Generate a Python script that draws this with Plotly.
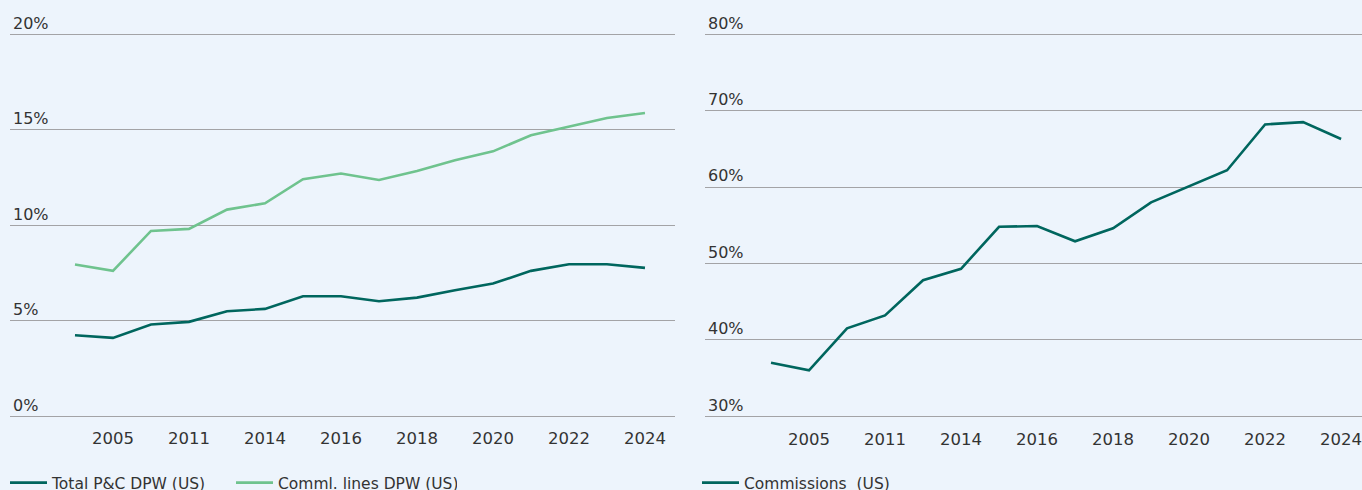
import plotly.graph_objects as go

years = ["2000", "2005", "2010", "2011", "2013", "2014", "2015", "2016",
         "2017", "2018", "2019", "2020", "2021", "2022", "2023", "2024"]
tick_labels = ["2005", "2011", "2014", "2016", "2018", "2020", "2022", "2024"]

total_pc = [4.24, 4.10, 4.80, 4.94, 5.50, 5.62, 6.28, 6.28,
            6.02, 6.21, 6.60, 6.95, 7.61, 7.96, 7.96, 7.77]
comml_lines = [7.94, 7.61, 9.70, 9.81, 10.82, 11.15, 12.41, 12.71,
               12.37, 12.84, 13.40, 13.87, 14.71, 15.15, 15.62, 15.88]
commissions = [37.0, 36.0, 41.5, 43.2, 47.8, 49.3, 54.8, 54.9,
               52.9, 54.6, 58.0, 60.1, 62.2, 68.2, 68.5, 66.3]

left_ticks = [0, 5, 10, 15, 20]
right_ticks = [30, 40, 50, 60, 70, 80]

DARK = "#00665E"
GREEN = "#6FC38E"
BG = "#EDF4FC"
GRID = "#A3A3A6"
TXT = "#333333"
FONT = "DejaVu Sans"

W, H = 1362, 490
BASE = 416.2  # pixel row of bottom gridline
TOP = 34.3    # pixel row of top gridline


def domain_for(lo_tick, hi_tick, r0, r1):
    ppu = (BASE - TOP) / (hi_tick - lo_tick)
    bottom = BASE + (lo_tick - r0) * ppu
    top = BASE - (r1 - lo_tick) * ppu
    return [1 - bottom / H, 1 - top / H]


lrange = [-0.3, 21.3]
rrange = [29.2, 83.2]

fig = go.Figure()
fig.add_trace(go.Scatter(x=years, y=total_pc, mode="lines", name="Total P&C DPW (US)",
                         line=dict(color=DARK, width=2.6), xaxis="x", yaxis="y", legend="legend"))
fig.add_trace(go.Scatter(x=years, y=comml_lines, mode="lines", name="Comml. lines DPW (US)",
                         line=dict(color=GREEN, width=2.6), xaxis="x", yaxis="y", legend="legend"))
fig.add_trace(go.Scatter(x=years, y=commissions, mode="lines", name="Commissions  (US)",
                         line=dict(color=DARK, width=2.6), xaxis="x2", yaxis="y2", legend="legend2"))

xcommon = dict(type="category", categoryorder="array", categoryarray=years,
               tickmode="array", tickvals=tick_labels, ticktext=tick_labels,
               showgrid=False, zeroline=False, showline=False, ticks="",
               ticklabelstandoff=5,
               tickfont=dict(family=FONT, size=16.5, color=TXT), fixedrange=True)
ycommon = dict(showgrid=True, gridcolor=GRID, gridwidth=1.2, zeroline=False, showline=False,
               ticks="", ticklabelposition="inside top",
               tickfont=dict(family=FONT, size=16, color=TXT), fixedrange=True)

legend_common = dict(orientation="h", xanchor="left", y=1 - 466 / H, yanchor="top",
                     bgcolor="rgba(0,0,0,0)", itemwidth=37, entrywidth=174,
                     font=dict(family=FONT, size=15.5, color=TXT))

fig.update_layout(
    width=W, height=H,
    margin=dict(l=0, r=0, t=0, b=0, autoexpand=False),
    paper_bgcolor=BG, plot_bgcolor=BG,
    xaxis=dict(xcommon, domain=[10 / W, 675 / W], range=[-1.71, 15.79], anchor="y"),
    yaxis=dict(ycommon, domain=domain_for(0, 20, *lrange), range=lrange, tickvals=left_ticks,
               ticktext=[f"{v}%" for v in left_ticks], anchor="x"),
    xaxis2=dict(xcommon, domain=[705 / W, 1.0], range=[-1.737, 15.55], anchor="y2"),
    yaxis2=dict(ycommon, domain=domain_for(30, 80, *rrange), range=rrange, tickvals=right_ticks,
                ticktext=[f"{v}%" for v in right_ticks], anchor="x2"),
    legend=dict(legend_common, x=5 / W),
    legend2=dict(legend_common, x=697 / W),
    showlegend=True,
)

fig.write_html("out.html", config={"displayModeBar": False},
               post_script="document.body.style.margin='0';document.body.style.background='" + BG + "';")
